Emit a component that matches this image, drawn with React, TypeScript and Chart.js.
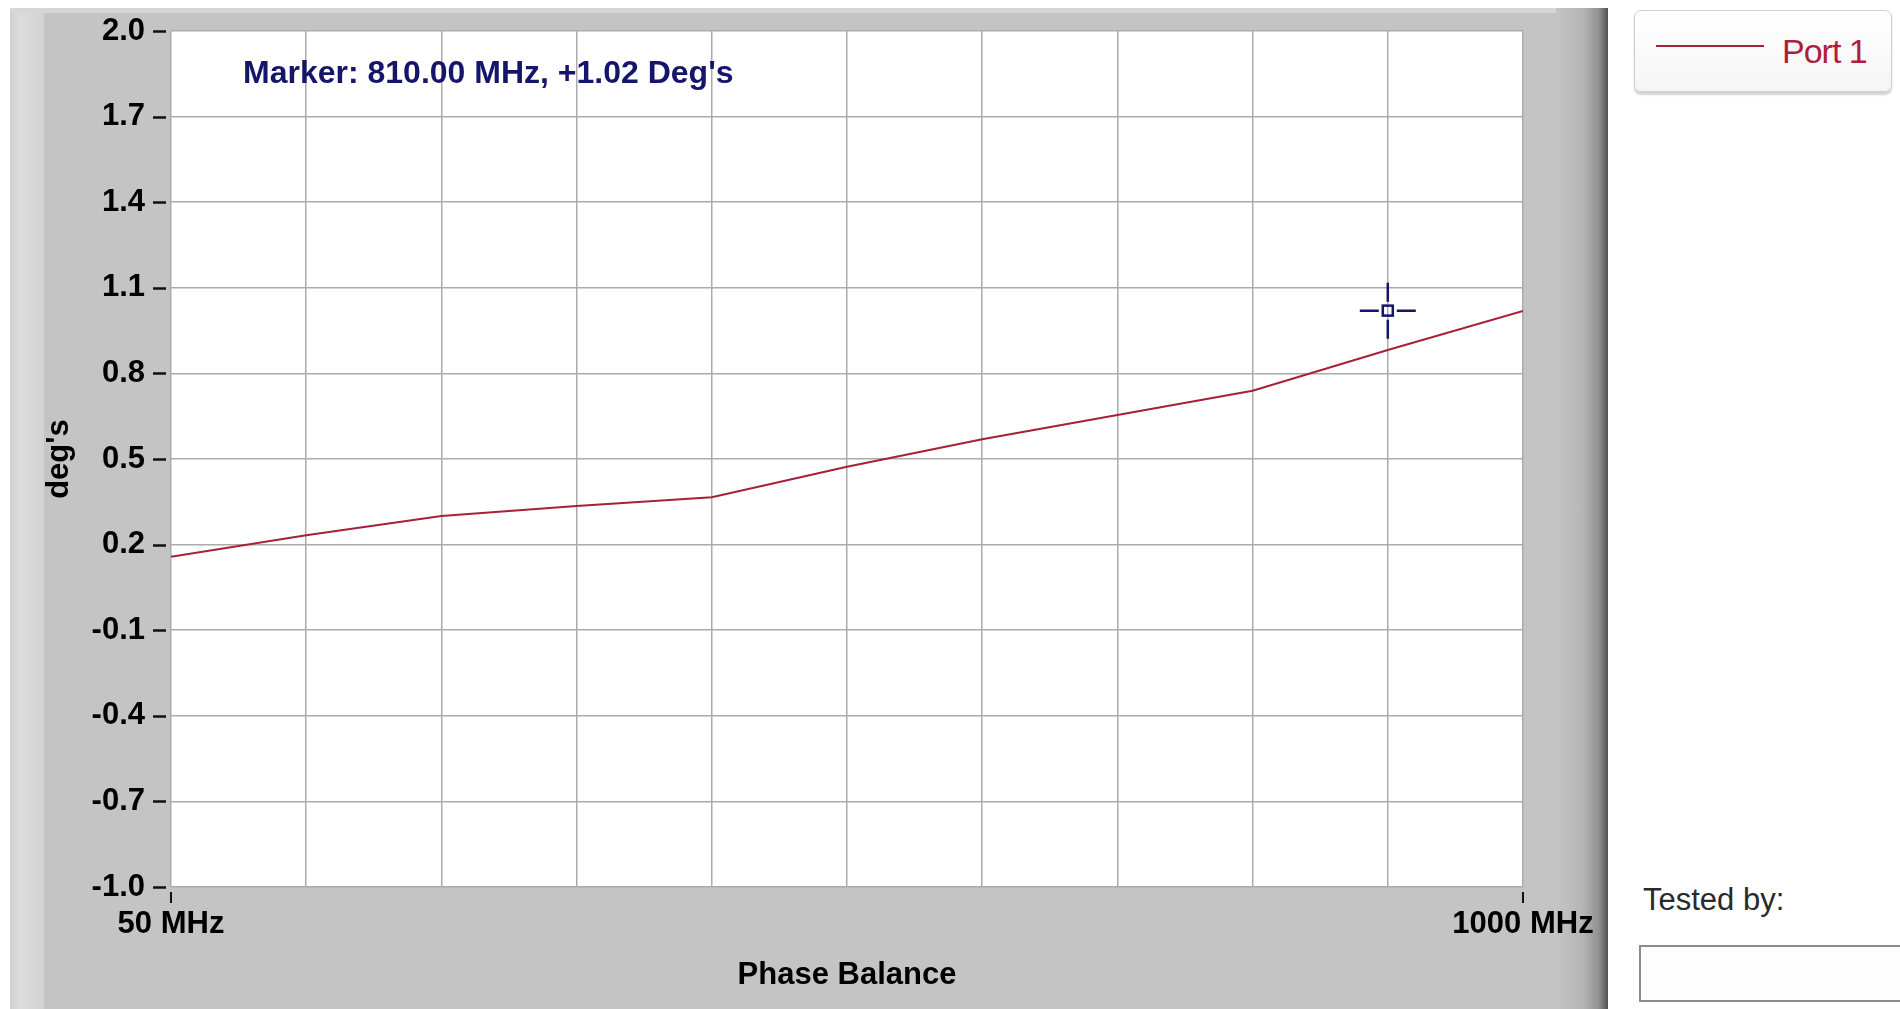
import React, { useEffect, useRef } from "react";
import { Chart, registerables } from "chart.js";

Chart.register(...registerables);

// ---- data ----
const frequenciesMHz = [50, 145, 240, 335, 430, 525, 620, 715, 810, 905, 1000];
const port1Phase = [0.157, 0.233, 0.3, 0.335, 0.366, 0.473, 0.569, 0.654, 0.739, 0.882, 1.019];
const xTickValues = [50, 145, 240, 335, 430, 525, 620, 715, 810, 905, 1000];
const xTickLabels = ["50 MHz", "", "", "", "", "", "", "", "", "", "1000 MHz"];
const yTickValues = [-1.0, -0.7, -0.4, -0.1, 0.2, 0.5, 0.8, 1.1, 1.4, 1.7, 2.0];
const markerFreq = [905];
const markerValue = [1.02];
const markerText = "Marker: 810.00 MHz, +1.02 Deg's";
const seriesName = "Port 1";
const xAxisTitle = "Phase Balance";
const yAxisTitle = "deg's";

const FONT = "'Liberation Sans', Arial, Helvetica, sans-serif";
const LINE_COLOR = "#a82038";
const NAVY = "#15156a";

const decorPlugin = {
  id: "decor",
  beforeDraw(chart: any) {
    const { ctx, chartArea } = chart;
    ctx.save();
    ctx.fillStyle = "#ffffff";
    ctx.fillRect(chartArea.left, chartArea.top, chartArea.right - chartArea.left, chartArea.bottom - chartArea.top);
    ctx.restore();
  },
  afterDraw(chart: any) {
    const { ctx, chartArea } = chart;
    const xs = chart.scales.x;
    const ys = chart.scales.y;
    ctx.save();
    // y tick dashes
    ctx.strokeStyle = "#111111";
    ctx.lineWidth = 2.5;
    yTickValues.forEach((v) => {
      const y = Math.round(ys.getPixelForValue(v)) + 0.5;
      ctx.beginPath();
      ctx.moveTo(chartArea.left - 18, y);
      ctx.lineTo(chartArea.left - 5, y);
      ctx.stroke();
    });
    // x tick marks at labelled ticks
    ctx.lineWidth = 2;
    xTickValues.forEach((v, i) => {
      if (!xTickLabels[i]) return;
      const x = Math.round(xs.getPixelForValue(v));
      ctx.beginPath();
      ctx.moveTo(x, chartArea.bottom + 5);
      ctx.lineTo(x, chartArea.bottom + 16);
      ctx.stroke();
    });
    // marker readout text
    ctx.fillStyle = NAVY;
    ctx.font = `bold 32px ${FONT}`;
    ctx.textAlign = "left";
    ctx.textBaseline = "alphabetic";
    ctx.fillText(markerText, chartArea.left + 72, chartArea.top + 52);
    // crosshair marker
    markerFreq.forEach((f, i) => {
      const cx = xs.getPixelForValue(f);
      const cy = ys.getPixelForValue(markerValue[i]);
      ctx.strokeStyle = NAVY;
      ctx.lineWidth = 2.5;
      ctx.strokeRect(cx - 5, cy - 5, 10, 10);
      ctx.beginPath();
      ctx.moveTo(cx - 28, cy);
      ctx.lineTo(cx - 9, cy);
      ctx.moveTo(cx + 9, cy);
      ctx.lineTo(cx + 28, cy);
      ctx.moveTo(cx, cy - 28);
      ctx.lineTo(cx, cy - 9);
      ctx.moveTo(cx, cy + 9);
      ctx.lineTo(cx, cy + 28);
      ctx.stroke();
    });
    ctx.restore();
  },
};

function PhaseChart() {
  const ref = useRef<HTMLCanvasElement | null>(null);
  useEffect(() => {
    if (!ref.current) return;
    const tickFont = { family: FONT, size: 31, weight: "bold" as const };
    const chart = new Chart(ref.current, {
      type: "line",
      data: {
        datasets: [
          {
            label: seriesName,
            data: frequenciesMHz.map((f, i) => ({ x: f, y: port1Phase[i] })),
            borderColor: LINE_COLOR,
            borderWidth: 2,
            pointRadius: 0,
            tension: 0,
            fill: false,
          },
        ],
      },
      options: {
        responsive: false,
        animation: false,
        devicePixelRatio: 1,
        layout: { padding: { left: 0, right: 85, top: 23, bottom: 0 } },
        plugins: { legend: { display: false }, tooltip: { enabled: false } },
        scales: {
          x: {
            type: "linear",
            min: 50,
            max: 1000,
            afterBuildTicks: (s: any) => {
              s.ticks = xTickValues.map((v) => ({ value: v }));
            },
            afterFit: (s: any) => {
              s.height = 122;
            },
            ticks: {
              autoSkip: false,
              maxRotation: 0,
              minRotation: 0,
              padding: 0,
              color: "#000",
              font: tickFont,
              callback: (_v: any, i: number) => xTickLabels[i],
            },
            grid: {
              color: "#ababab",
              lineWidth: 1.5,
              drawTicks: true,
              tickLength: 19,
              tickColor: "rgba(0,0,0,0)",
            },
            border: { display: false },
            title: {
              display: true,
              text: xAxisTitle,
              color: "#000",
              font: tickFont,
              padding: { top: 0, bottom: 15 },
            },
          },
          y: {
            type: "linear",
            min: -1,
            max: 2,
            afterBuildTicks: (s: any) => {
              s.ticks = yTickValues.map((v) => ({ value: v }));
            },
            afterFit: (s: any) => {
              s.width = 161;
            },
            ticks: {
              autoSkip: false,
              padding: 0,
              color: "#000",
              font: tickFont,
              callback: (v: any) => Number(v).toFixed(1),
            },
            grid: {
              color: "#ababab",
              lineWidth: 1.5,
              drawTicks: true,
              tickLength: 26,
              tickColor: "rgba(0,0,0,0)",
            },
            border: { display: false },
            title: {
              display: true,
              text: yAxisTitle,
              color: "#000",
              font: tickFont,
              padding: { top: 31, bottom: 0 },
            },
          },
        },
      },
      plugins: [decorPlugin],
    });
    return () => chart.destroy();
  }, []);
  return (
    <canvas
      ref={ref}
      width={1598}
      height={1001}
      style={{ position: "absolute", left: 0, top: 0, width: 1598, height: 1001 }}
    />
  );
}

export default function App() {
  return (
    <div
      style={{
        position: "fixed",
        left: 0,
        top: 0,
        width: 1900,
        height: 1009,
        overflow: "hidden",
        background: "#ffffff",
        fontFamily: FONT,
      }}
    >
      <div
        style={{
          position: "absolute",
          left: 10,
          top: 8,
          width: 1598,
          height: 1001,
          background: "#c4c4c4",
        }}
      >
        <div
          style={{
            position: "absolute",
            left: 0,
            top: 0,
            width: 34,
            height: "100%",
            background: "linear-gradient(to right, #cfcfcf, #dcdcdc 30%, #d2d2d2 100%)",
          }}
        />
        <div
          style={{
            position: "absolute",
            left: 0,
            top: 0,
            width: "100%",
            height: 5,
            background: "#d6d6d6",
          }}
        />
        <div
          style={{
            position: "absolute",
            right: 0,
            top: 0,
            width: 52,
            height: "100%",
            background: "linear-gradient(to right, #c4c4c4 0%, #b6b6b6 50%, #929292 82%, #505050 100%)",
          }}
        />
        <PhaseChart />
      </div>

      <div
        style={{
          position: "absolute",
          left: 1634,
          top: 10,
          width: 258,
          height: 82,
          boxSizing: "border-box",
          border: "1px solid #cfcfcf",
          borderRadius: 7,
          background: "linear-gradient(#ffffff, #f5f5f5)",
          boxShadow: "0 3px 2px #d4d4d4",
        }}
      >
        <div
          style={{
            position: "absolute",
            left: 21,
            top: 34,
            width: 108,
            height: 2,
            background: LINE_COLOR,
          }}
        />
        <div
          style={{
            position: "absolute",
            left: 147,
            top: 23,
            fontSize: 34,
            lineHeight: 1,
            letterSpacing: -1,
            color: "#b01e3c",
            whiteSpace: "nowrap",
          }}
        >
          {seriesName}
        </div>
      </div>

      <div
        style={{
          position: "absolute",
          left: 1643,
          top: 884,
          fontSize: 31,
          lineHeight: 1,
          color: "#2a2a2a",
          whiteSpace: "nowrap",
        }}
      >
        Tested by:
      </div>
      <div
        style={{
          position: "absolute",
          left: 1639,
          top: 945,
          width: 300,
          height: 57,
          boxSizing: "border-box",
          border: "2px solid #8c8c8c",
          background: "#fdfdfd",
        }}
      />
    </div>
  );
}
